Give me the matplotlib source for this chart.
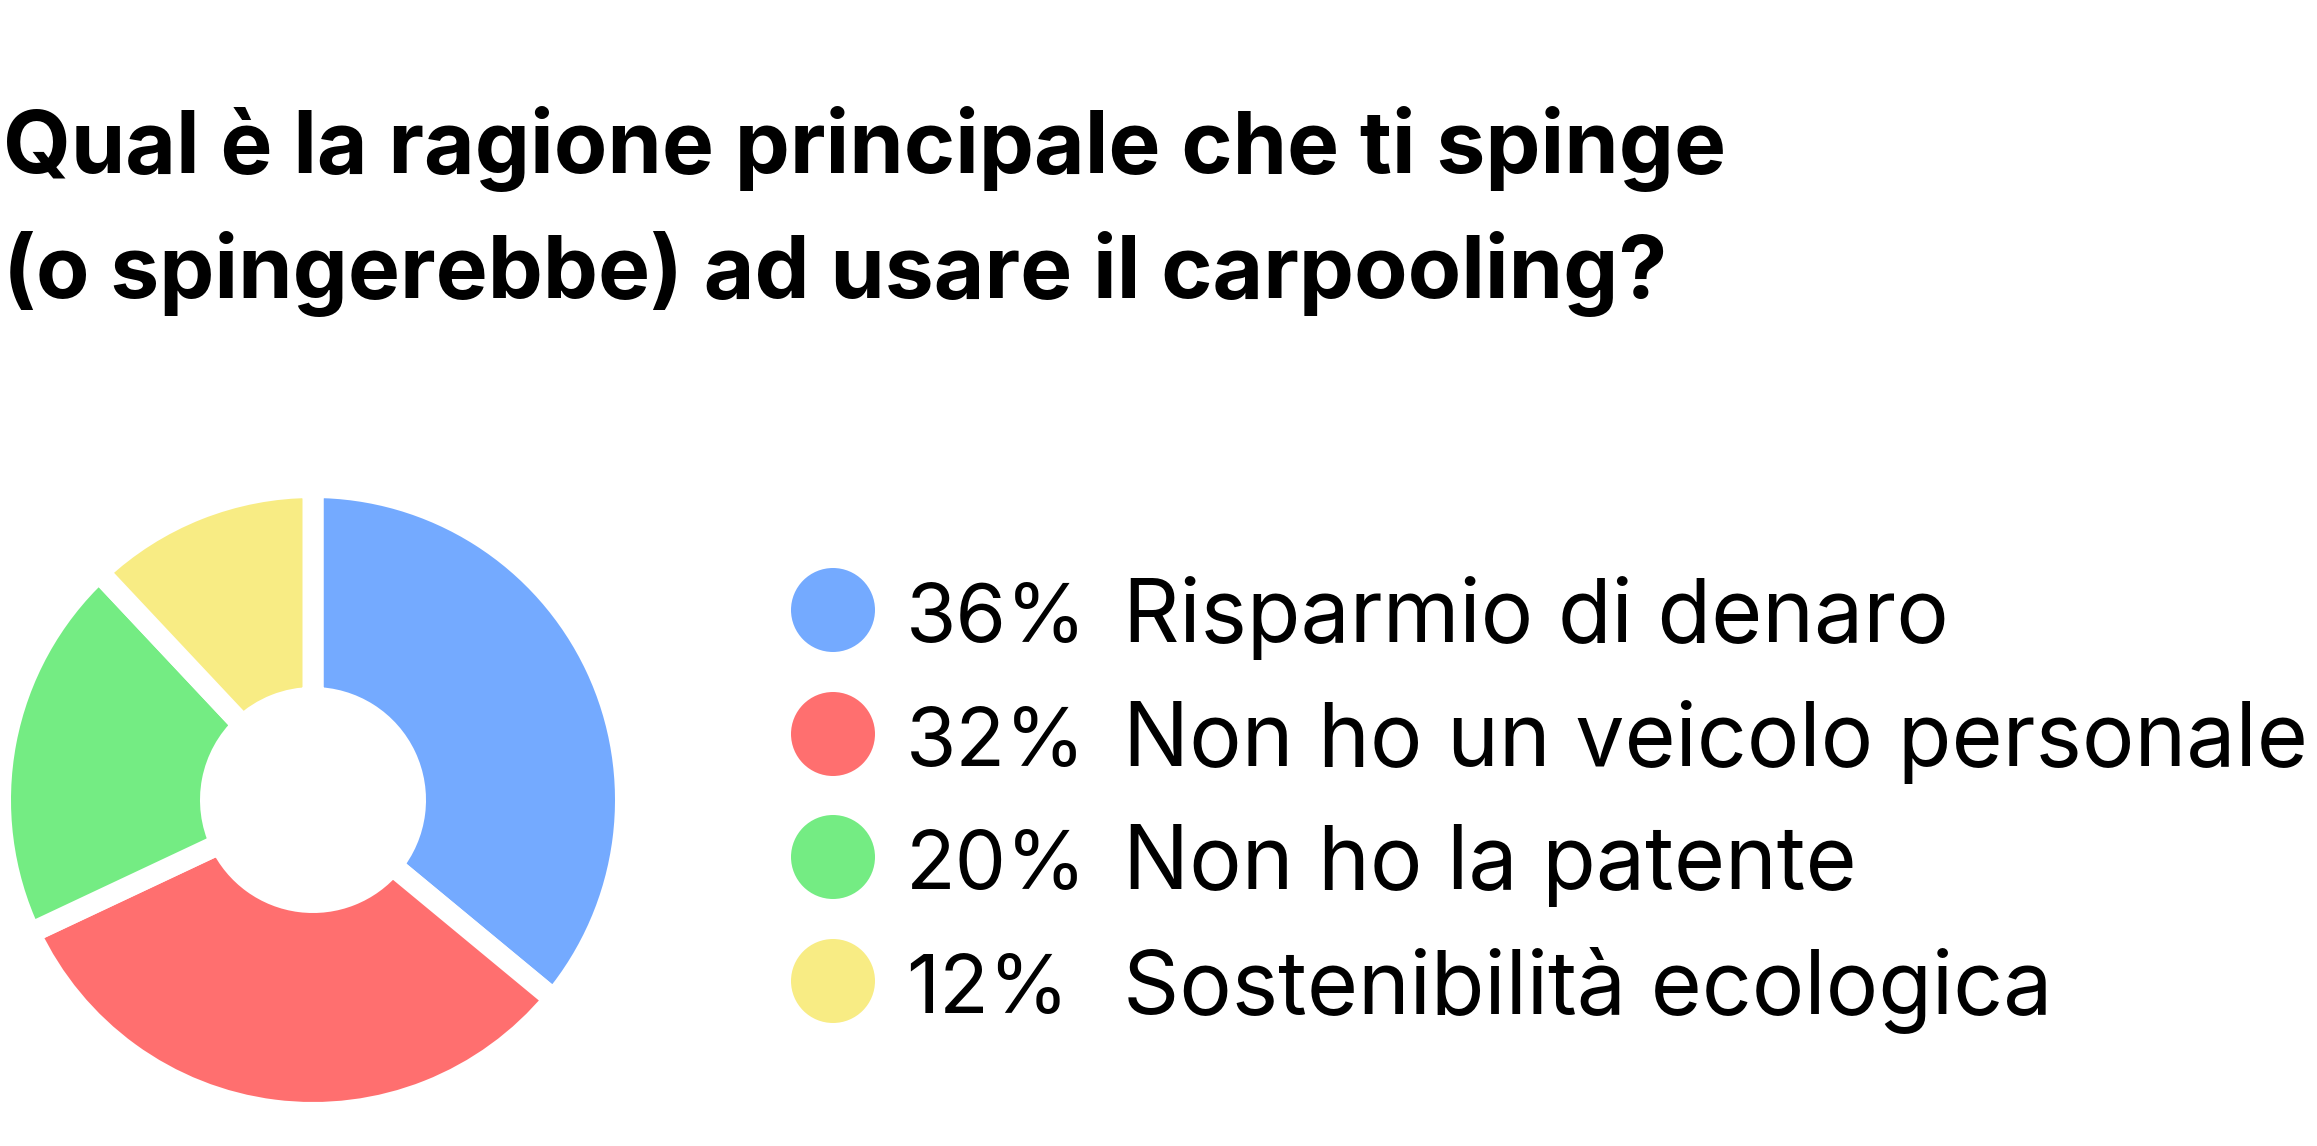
import matplotlib
matplotlib.use("Agg")
import matplotlib.pyplot as plt

categories = ["Risparmio di denaro", "Non ho un veicolo personale",
              "Non ho la patente", "Sostenibilità ecologica"]
values = [36, 32, 20, 12]
colors = ["#74AAFF", "#FF6F6F", "#74EC83", "#F8EC84"]
title_lines = ["Qual è la ragione principale che ti spinge",
               "(o spingerebbe) ad usare il carpooling?"]

W, H, DPI = 2317, 1146, 100
FONT = "Inter"
fig = plt.figure(figsize=(W / DPI, H / DPI), dpi=DPI)
fig.patch.set_facecolor("white")

# ---- donut ----
cx, cy = 313, 800          # centre (px from top)
S = 330                     # half-size of axes in px
gap = 21                    # white gap px
outer_vis, inner_vis = 302, 113
ax = fig.add_axes([(cx - S) / W, (H - cy - S) / H, 2 * S / W, 2 * S / H])
r_out = (outer_vis + gap / 2) / S
r_in = (inner_vis - gap / 2) / S
ax.pie(values, colors=colors, startangle=90, counterclock=False,
       radius=r_out,
       wedgeprops=dict(width=r_out - r_in, edgecolor="white",
                       linewidth=gap * 72 / DPI, joinstyle="miter"))
ax.set_xlim(-1, 1)
ax.set_ylim(-1, 1)
ax.set_aspect("equal")
ax.axis("off")

# ---- overlay for title and legend (pixel coords) ----
ov = fig.add_axes([0, 0, 1, 1])
ov.set_xlim(0, W)
ov.set_ylim(H, 0)
ov.axis("off")

renderer = fig.canvas.get_renderer()


def fit_width(t, target):
    for _ in range(3):
        bb = t.get_window_extent(renderer=renderer)
        t.set_fontsize(t.get_fontsize() * target / bb.width)


t1 = ov.text(3, 173, title_lines[0], fontsize=60, fontweight="bold",
             family=FONT, ha="left", va="baseline", color="black")
fit_width(t1, 1722)
t2 = ov.text(3, 298, title_lines[1], fontsize=t1.get_fontsize(),
             fontweight="bold", family=FONT, ha="left", va="baseline",
             color="black")

# legend
ys = [610, 734, 857, 981]
lx, px, tx = 833, 906, 1123
ov.scatter([lx] * len(values), ys, s=(84 * 72 / DPI) ** 2, c=colors,
           linewidths=0, zorder=3)
pct_texts, label_texts = [], []
for y, v, lab in zip(ys, values, categories):
    pct_texts.append(ov.text(px, y + 32, f"{v}%", fontsize=62, family=FONT,
                             ha="left", va="baseline", color="black"))
    label_texts.append(ov.text(tx, y + 32, lab, fontsize=62, family=FONT,
                               ha="left", va="baseline", color="black"))
fit_width(label_texts[1], 1185)
fs = label_texts[1].get_fontsize()
for t in label_texts:
    t.set_fontsize(fs)
for t in pct_texts:
    t.set_fontsize(fs * 0.93)

fig.savefig("out.png", dpi=DPI, facecolor="white")
